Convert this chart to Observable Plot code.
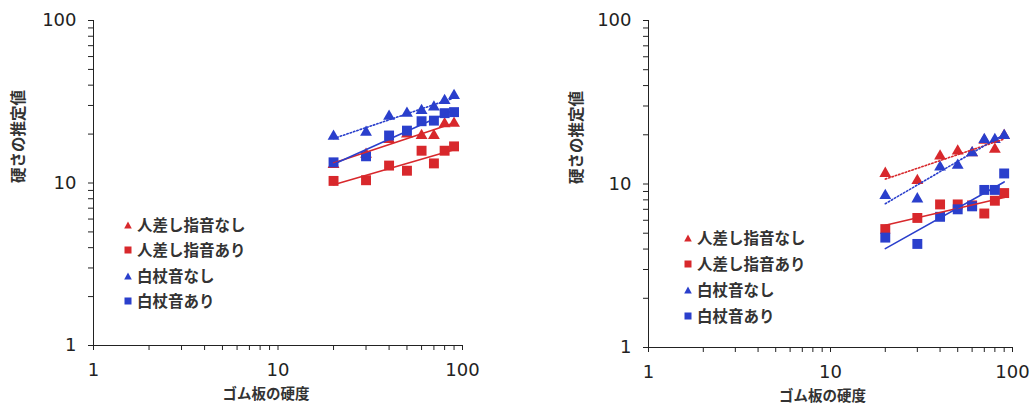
<!DOCTYPE html>
<html><head><meta charset="utf-8">
<script src="https://cdn.jsdelivr.net/npm/d3@7"></script>
<script src="https://cdn.jsdelivr.net/npm/@observablehq/plot@0.6"></script>
<style>
body{margin:0;background:#fff;}
#wrap{position:relative;width:1032px;height:409px;overflow:hidden;font-family:"Noto Sans CJK JP",sans-serif;}
.panel{position:absolute;top:0;}
.legend{position:absolute;font-size:15.5px;font-weight:bold;color:#333;line-height:1;}
.legend .row{display:flex;align-items:center;height:25px;}
.legend svg{margin-right:5px;}
</style></head><body><div id="wrap"></div>
<script>
// ---- data ----
const hardness = [20, 30, 40, 50, 60, 70, 80, 90];
const seriesNames = ["人差し指音なし", "人差し指音あり", "白杖音なし", "白杖音あり"];
const seriesSymbols = ["triangle", "square", "triangle", "square"];
const seriesColors = ["#d8282c", "#d8282c", "#2a3fcc", "#2a3fcc"];
const leftFingerNo  = [13.0, 15.0, 18.5, 20.0, 19.6, 19.6, 23.1, 23.3];
const leftFingerYes = [10.3, 10.4, 12.8, 11.9, 15.8, 13.2, 15.8, 16.8];
const leftCaneNo    = [19.4, 20.5, 25.7, 26.8, 27.9, 29.3, 32.2, 34.5];
const leftCaneYes   = [13.4, 14.6, 19.6, 21.0, 24.0, 24.2, 26.9, 27.3];
const rightFingerNo  = [11.6, 10.5, 14.8, 15.9, 15.5, 18.5, 16.3, 19.8];
const rightFingerYes = [5.3, 6.2, 7.5, 7.5, 7.4, 6.6, 7.9, 8.8];
const rightCaneNo    = [8.5, 8.1, 12.7, 13.0, 15.5, 18.7, 18.7, 19.8];
const rightCaneYes   = [4.7, 4.3, 6.3, 7.0, 7.3, 9.2, 9.2, 11.6];
const axisTicks = [1, 2, 3, 4, 5, 6, 7, 8, 9, 10, 20, 30, 40, 50, 60, 70, 80, 90, 100];
const tickLabels = [1, 10, 100];
const xTitle = "ゴム板の硬度";
const yTitle = "硬さの推定値";
const leftDash = ["none", "none", "1.5,2", "none"];
const rightDash = ["1.5,2", "none", "1.5,2", "none"];

// log-log least squares fit
function fit(xs, ys) {
  const lx = xs.map(Math.log10), ly = ys.map(Math.log10);
  const mx = d3.mean(lx), my = d3.mean(ly);
  const b = d3.sum(lx, (v, i) => (v - mx) * (ly[i] - my)) / d3.sum(lx, v => (v - mx) ** 2);
  const a = my - b * mx;
  const ext = d3.extent(xs);
  return ext.map(x => ({x, y: Math.pow(10, a + b * Math.log10(x))}));
}

const CJK = "'Noto Sans CJK JP', sans-serif";

function panel(series, dashes, m) {
  const pts = [];
  series.forEach((vals, s) => {
    vals.forEach((v, i) => pts.push({x: hardness[i], y: v, s}));
  });
  const marks = [];
  [0, 1, 2, 3].forEach(s => {
    marks.push(Plot.dot(pts.filter(d => d.s === s), {
      x: "x", y: "y", symbol: () => seriesSymbols[s], fill: seriesColors[s],
      r: seriesSymbols[s] === "square" ? 5.6 : 4.4, stroke: "none"
    }));
  });
  [0, 1, 2, 3].forEach(s => {
    marks.push(Plot.line(fit(hardness, series[s]), {
      x: "x", y: "y", stroke: seriesColors[s], strokeWidth: 1.6,
      strokeDasharray: dashes[s] === "none" ? null : dashes[s]
    }));
  });
  marks.push(Plot.text([yTitle], {text: d => d, frameAnchor: "left", dx: m.ytdx, rotate: -90,
    fontSize: 15.5, fontWeight: "bold", fontFamily: CJK, fill: "#333"}));
  marks.push(Plot.text([xTitle], {text: d => d, frameAnchor: "bottom", dy: m.xtdy, dx: m.xtdx,
    fontSize: 14.5, fontWeight: "bold", fontFamily: CJK, fill: "#333"}));
  return Plot.plot({
    width: m.width, height: 409,
    marginLeft: m.left, marginRight: m.right, marginTop: 20, marginBottom: m.bottom,
    style: {fontSize: "18px", fontFamily: "'DejaVu Sans', sans-serif", color: "#222", background: "transparent", overflow: "visible"},
    x: {type: "log", domain: [1, 100], ticks: axisTicks, tickFormat: d => tickLabels.includes(d) ? String(d) : "",
        tickSize: 5, tickPadding: 13, line: true, label: null},
    y: {type: "log", domain: [1, 100], ticks: axisTicks, tickFormat: d => tickLabels.includes(d) ? String(d) : "",
        tickSize: 5, tickPadding: 12, line: true, label: null},
    marks
  });
}

function legend(left, top, gaps) {
  const div = document.createElement("div");
  div.className = "legend";
  div.style.left = left + "px";
  div.style.top = top + "px";
  seriesNames.forEach((name, i) => {
    const row = document.createElement("div");
    row.className = "row";
    row.style.height = gaps[i] + "px";
    const shape = seriesSymbols[i] === "square"
      ? `<rect x="0.5" y="0.5" width="7" height="7" fill="${seriesColors[i]}"/>`
      : `<polygon points="4,0.5 7.8,7.5 0.2,7.5" fill="${seriesColors[i]}"/>`;
    row.innerHTML = `<svg width="8" height="8">${shape}</svg><span>${name}</span>`;
    div.appendChild(row);
  });
  return div;
}

const wrap = document.getElementById("wrap");
const p1 = panel([leftFingerNo, leftFingerYes, leftCaneNo, leftCaneYes], leftDash,
  {width: 516, left: 93, right: 54, bottom: 64, ytdx: -74, xtdy: 53, xtdx: -12});
p1.classList.add("panel"); p1.style.left = "0px";
wrap.appendChild(p1);
const p2 = panel([rightFingerNo, rightFingerYes, rightCaneNo, rightCaneYes], rightDash,
  {width: 516, left: 132, right: 20, bottom: 62, ytdx: -71, xtdy: 53, xtdx: -8});
p2.classList.add("panel"); p2.style.left = "516px";
wrap.appendChild(p2);
wrap.appendChild(legend(124, 212, [25, 26, 25, 25]));
wrap.appendChild(legend(684, 225, [25, 27, 26, 25]));
</script></body></html>
